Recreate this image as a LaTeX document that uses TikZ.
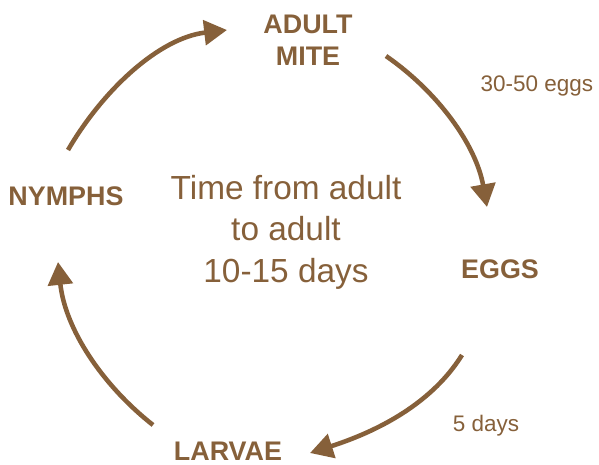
\documentclass[tikz,border=0pt]{standalone}
\usepackage{fontspec}
\setmainfont{Liberation Sans}
\usepackage{tikz}
\usetikzlibrary{arrows.meta}
\definecolor{mite}{HTML}{86603A}

\begin{document}
\begin{tikzpicture}[
    x=0.02cm, y=-0.02cm,
    stage/.style={inner sep=0pt, text=mite, font=\bfseries\fontsize{15.3}{18.1}\selectfont, align=center},
    note/.style={inner sep=0pt, text=mite, font=\fontsize{12.8}{15}\selectfont},
    summary/.style={inner sep=0pt, text=mite, font=\fontsize{19}{23.5}\selectfont, align=center},
    flow/.style={-{Triangle[length=13pt, width=14pt]}, line width=2.6pt, color=mite}
]
    \useasboundingbox (0,0) rectangle (599,464);

    \node[stage, anchor=north] (adult) at (308,15) {ADULT\\MITE};
    \node[stage, anchor=base] (eggs) at (500,278) {EGGS};
    \node[stage, anchor=base] (larvae) at (228,460) {LARVAE};
    \node[stage, anchor=base] (nymphs) at (66,205) {NYMPHS};

    \node[note, anchor=base] (eggcount) at (537,91) {30-50 eggs};
    \node[note, anchor=base] (hatch) at (486,431) {5 days};

    \node[summary, anchor=north] (time) at (286,175) {Time from adult\\to adult\\10-15 days};

    % arrow ends
    \coordinate (n1) at (68,150);   \coordinate (a1) at (227,30);
    \coordinate (a2) at (386,56);   \coordinate (e1) at (487,207);
    \coordinate (e2) at (462,355);  \coordinate (l1) at (310,453);
    \coordinate (l2) at (153,425);  \coordinate (n2) at (58,262);

    \draw[flow] (n1) .. controls (103,90) and (159,38) .. (a1);
    \draw[flow] (a2) .. controls (438,92) and (476,145) .. (e1);
    \draw[flow] (e2) .. controls (429,408) and (369,434) .. (l1);
    \draw[flow] (l2) .. controls (101,384) and (65,328) .. (n2);
\end{tikzpicture}
\end{document}
